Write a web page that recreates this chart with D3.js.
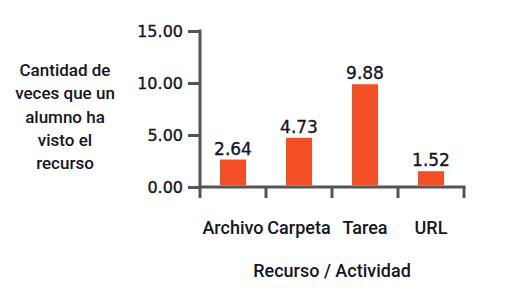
<!DOCTYPE html>
<html>
<head>
<meta charset="utf-8">
<script src="https://cdn.jsdelivr.net/npm/d3@7"></script>
<style>
  body { margin: 0; background: #fff; }
  svg { display: block; }
</style>
</head>
<body>
<div id="chart"></div>
<script>
const categories = ['Archivo', 'Carpeta', 'Tarea', 'URL'];
const values = [2.64, 4.73, 9.88, 1.52];
const yTicks = [0, 5, 10, 15];
const yTitle = ['Cantidad de', 'veces que un', 'alumno ha', 'visto el', 'recurso'];
const xTitle = 'Recurso / Actividad';

const width = 511;
const height = 293;
const axisColor = '#555';
const barColor = '#f24f25';
const textColor = '#15151f';
const labelFont = 'Roboto, Liberation Sans, sans-serif';

const svg = d3.select('#chart')
  .append('svg')
  .attr('width', width)
  .attr('height', height);

// Scales
const x = d3.scaleBand().domain(categories).range([200, 464]).padding(0);
const y = d3.scaleLinear().domain([0, 15]).range([187, 31]);

// Y axis
const yAxis = svg.append('g')
  .attr('transform', 'translate(200,0)')
  .call(d3.axisLeft(y).tickValues(yTicks).tickSize(12).tickSizeOuter(0).tickPadding(5)
    .tickFormat(d3.format('.2f')));
yAxis.select('.domain').remove();
yAxis.selectAll('.tick line').attr('stroke', axisColor).attr('stroke-width', 3);
yAxis.selectAll('.tick text')
  .attr('fill', textColor)
  .attr('stroke', textColor)
  .attr('stroke-width', 0.35)
  .attr('font-family', 'DejaVu Sans')
  .attr('font-size', 16);

// X axis (ticks at band edges)
const edges = categories.map((c) => x(c)).concat([x.range()[1]]);
svg.append('g')
  .selectAll('line')
  .data(edges)
  .join('line')
  .attr('x1', (d) => d)
  .attr('x2', (d) => d)
  .attr('y1', y(0))
  .attr('y2', y(0) + 11)
  .attr('stroke', axisColor)
  .attr('stroke-width', 3);

// Axis lines
svg.append('line')
  .attr('x1', 200).attr('x2', 200)
  .attr('y1', y(15) - 1.5).attr('y2', y(0))
  .attr('stroke', axisColor).attr('stroke-width', 3);
svg.append('line')
  .attr('x1', 198.5).attr('x2', x.range()[1] + 1.5)
  .attr('y1', y(0)).attr('y2', y(0))
  .attr('stroke', axisColor).attr('stroke-width', 3);

// Bars
const barW = 26;
svg.append('g')
  .selectAll('rect')
  .data(values)
  .join('rect')
  .attr('x', (d, i) => x(categories[i]) + x.bandwidth() / 2 - barW / 2)
  .attr('y', (d) => y(d))
  .attr('width', barW)
  .attr('height', (d) => y(0) - 1.5 - y(d))
  .attr('fill', barColor);

// Value labels
svg.append('g')
  .selectAll('text')
  .data(values)
  .join('text')
  .attr('x', (d, i) => x(categories[i]) + x.bandwidth() / 2)
  .attr('y', (d) => y(d) - 5)
  .attr('text-anchor', 'middle')
  .attr('font-family', 'DejaVu Sans')
  .attr('font-size', 17)
  .attr('fill', textColor)
  .attr('stroke', textColor)
  .attr('stroke-width', 0.35)
  .text((d) => d.toFixed(2));

// Category labels
svg.append('g')
  .selectAll('text')
  .data(categories)
  .join('text')
  .attr('x', (d) => x(d) + x.bandwidth() / 2)
  .attr('y', 234)
  .attr('text-anchor', 'middle')
  .attr('font-family', labelFont)
  .attr('font-weight', 500)
  .attr('font-size', 18)
  .attr('fill', textColor)
  .text((d) => d);

// X title
svg.append('text')
  .attr('x', 332)
  .attr('y', 277)
  .attr('text-anchor', 'middle')
  .attr('font-family', labelFont)
  .attr('font-weight', 500)
  .attr('font-size', 18)
  .attr('fill', textColor)
  .text(xTitle);

// Y title
svg.append('text')
  .attr('text-anchor', 'middle')
  .attr('font-family', labelFont)
  .attr('font-weight', 500)
  .attr('font-size', 17)
  .attr('fill', textColor)
  .selectAll('tspan')
  .data(yTitle)
  .join('tspan')
  .attr('x', 65)
  .attr('y', (d, i) => 76 + i * 23.3)
  .text((d) => d);
</script>
</body>
</html>
